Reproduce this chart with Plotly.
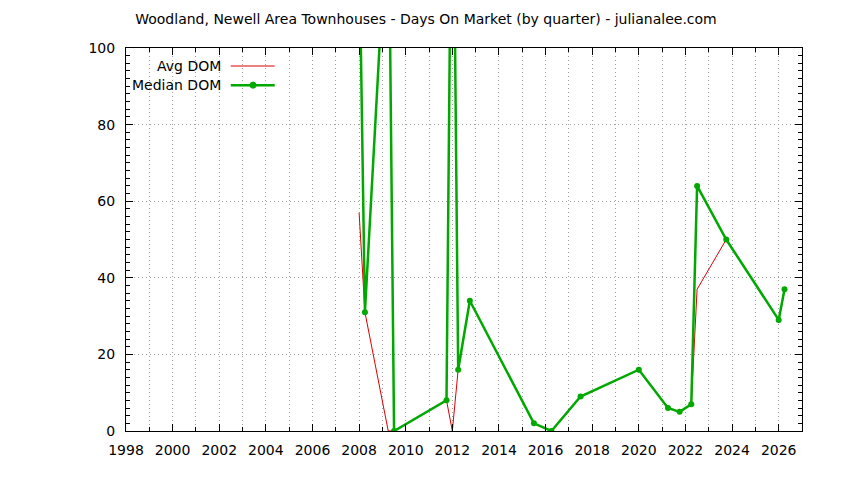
import plotly.graph_objects as go

# quarterly Days On Market, values above 100 run off the top of the chart
median_qtr = [2008.0, 2008.25, 2009.0, 2009.25, 2009.5, 2011.75, 2012.0, 2012.25,
              2012.75, 2015.5, 2016.25, 2017.5, 2020.0, 2021.25, 2021.75, 2022.25,
              2022.5, 2023.75, 2026.0, 2026.25]
median_dom = [130, 31, 114, 150, 0, 8, 175, 16,
              34, 2, 0, 9, 16, 6, 5, 7,
              64, 50, 29, 37]

avg_qtr = [2008.0, 2008.25, 2009.25, 2009.5, 2011.75, 2012.0, 2012.25,
           2012.75, 2015.5, 2016.25, 2017.5, 2020.0, 2021.25, 2021.75, 2022.25,
           2022.5, 2023.75, 2026.0, 2026.25]
avg_dom = [57, 31, 0, 0, 8, 0, 16,
           34, 2, 0, 9, 16, 6, 5, 7,
           37, 50, 29, 37]

FONT = "DejaVu Sans"
RED = "#dd0000"
GREEN = "#00a800"
GRID = "#a0a0a0"
W, H = 836, 472   # page body has an 8px margin

fig = go.Figure()

fig.add_trace(go.Scatter(
    x=avg_qtr, y=avg_dom, name="Avg DOM", mode="lines",
    line=dict(color=RED, width=1),
))
fig.add_trace(go.Scatter(
    x=median_qtr, y=median_dom, name="Median DOM", mode="lines+markers",
    line=dict(color=GREEN, width=2.5),
    marker=dict(color=GREEN, size=6, symbol="circle"),
))

# gnuplot style key: text on the left, sample on the right
key_rows = [("Avg DOM", 0.953, RED, 1, False), ("Median DOM", 0.903, GREEN, 2.5, True)]
for label, ky, col, w, dot in key_rows:
    fig.add_annotation(
        xref="paper", yref="paper", x=0.143, y=ky, text=label,
        showarrow=False, xanchor="right", yanchor="middle",
        font=dict(family=FONT, size=14, color="black"),
    )
    fig.add_shape(type="line", xref="paper", yref="paper",
                  x0=0.155, x1=0.220, y0=ky, y1=ky,
                  line=dict(color=col, width=w))
    if dot:
        fig.add_shape(type="circle", xref="paper", yref="paper",
                      x0=0.188 - 0.0045, x1=0.188 + 0.0045,
                      y0=ky - 0.008, y1=ky + 0.008,
                      fillcolor=col, line=dict(color=col, width=1))

axis_common = dict(
    showline=True, linecolor="black", linewidth=1, mirror="allticks",
    ticks="inside", tickcolor="black", ticklen=7, tickwidth=1,
    showgrid=True, gridcolor=GRID, griddash="1px,3px", gridwidth=1,
    zeroline=False,
    tickfont=dict(family=FONT, size=14, color="black"),
)

fig.update_xaxes(
    range=[1998, 2027], tick0=1998, dtick=2, ticklabelstandoff=6,
    minor=dict(dtick=1, ticks="inside", ticklen=4, tickcolor="black",
               showgrid=True, gridcolor=GRID, griddash="1px,3px"),
    **axis_common,
)
fig.update_yaxes(
    range=[0, 100], tick0=0, dtick=20, ticklabelstandoff=7,
    minor=dict(dtick=2, ticks="inside", ticklen=4, tickcolor="black",
               showgrid=False),
    **axis_common,
)

fig.update_layout(
    width=W, height=H,
    margin=dict(l=118, r=42, t=40, b=49),
    paper_bgcolor="white", plot_bgcolor="white",
    showlegend=False,
    title=dict(
        text="Woodland, Newell Area Townhouses - Days On Market (by quarter) - julianalee.com",
        xref="container", x=0.5, xanchor="center",
        yref="container", y=1 - 11 / H, yanchor="middle",
        font=dict(family=FONT, size=14, color="black"),
    ),
    font=dict(family=FONT, size=14, color="black"),
)

fig.write_html("out.html")
